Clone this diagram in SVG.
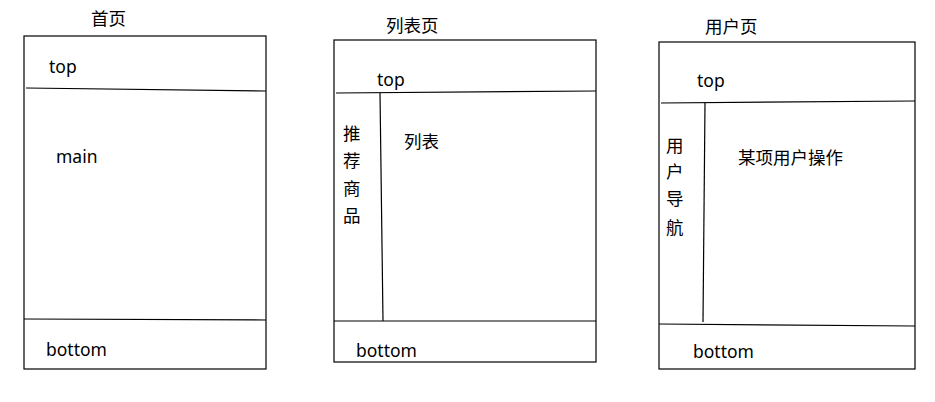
<svg xmlns="http://www.w3.org/2000/svg" width="935" height="402" viewBox="0 0 935 402">
<style>
.b{fill:none;stroke:#000;stroke-width:1.2}
.l{stroke:#000;stroke-width:1.2}
text{font-family:"Noto Sans","Noto Sans CJK SC",sans-serif;font-size:17.5px;fill:#000}
</style>
<rect width="935" height="402" fill="#fff"/>
<g id="page1">
<rect class="b" x="24" y="36" width="242" height="333"/>
<text x="91" y="25">首页</text>
<text x="49" y="73">top</text>
<text x="56" y="163">main</text>
<text x="46" y="356">bottom</text>
</g>
<g id="page2">
<rect class="b" x="334" y="40" width="262" height="322"/>
<text x="386" y="32">列表页</text>
<text x="377" y="86">top</text>
<text x="343" y="140">推</text>
<text x="343" y="167">荐</text>
<text x="343" y="195">商</text>
<text x="343" y="222">品</text>
<text x="404" y="148">列表</text>
<text x="356" y="357">bottom</text>
</g>
<g id="page3">
<rect class="b" x="659" y="42" width="256" height="327"/>
<text x="705" y="33">用户页</text>
<text x="697" y="87">top</text>
<text x="666" y="152">用</text>
<text x="666" y="178">户</text>
<text x="666" y="205">导</text>
<text x="666" y="234">航</text>
<text x="738" y="164">某项用户操作</text>
<text x="693" y="358">bottom</text>
</g>
<g id="connectors">
<line class="l" x1="26" y1="88" x2="266" y2="91"/>
<line class="l" x1="24" y1="319" x2="266" y2="320"/>
<line class="l" x1="336" y1="93" x2="596" y2="91"/>
<line class="l" x1="380" y1="93" x2="383" y2="321"/>
<line class="l" x1="334" y1="321" x2="596" y2="321"/>
<line class="l" x1="661" y1="103" x2="915" y2="101"/>
<line class="l" x1="705" y1="103" x2="703" y2="322"/>
<line class="l" x1="659" y1="324" x2="915" y2="326"/>
</g>
</svg>
